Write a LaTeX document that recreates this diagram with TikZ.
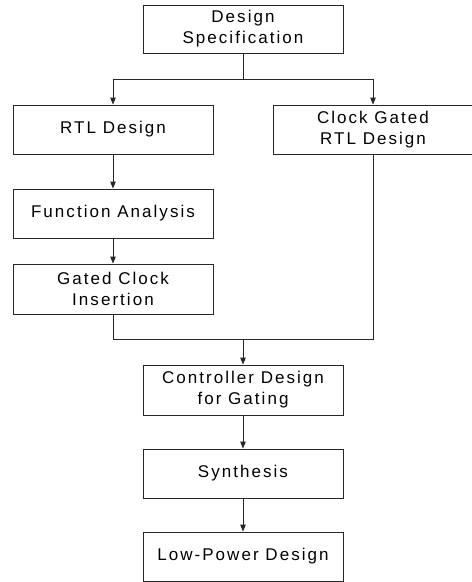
\documentclass[tikz,border=0pt]{standalone}
\usepackage{fontspec}
\setmainfont{Liberation Sans}[LetterSpace=12]
\usetikzlibrary{arrows.meta}

\tikzset{
  stage/.style={draw=black!85, line width=0.9pt, minimum width=200pt, minimum height=49pt,
    inner sep=0pt, align=center, font=\fontsize{17}{21}\selectfont, text=black},
  flow/.style={draw=black!85, line width=0.9pt},
  flowarrow/.style={flow, -{Triangle[length=7pt,width=5.5pt]}},
}

\begin{document}
\begin{tikzpicture}[x=1pt,y=-1pt]
  \clip (0,0) rectangle (472,582);

  % design stages
  \node[stage, minimum height=48pt] (spec) at (243,29)    {Design\\Specification};
  \node[stage] (rtl)  at (113,129.5) {RTL Design};
  \node[stage] (cg)   at (373,129.5) {Clock Gated\\RTL Design};
  \node[stage] (fa)   at (113,213.5) {Function Analysis};
  \node[stage, minimum height=50pt] (gci)  at (113,289)   {Gated Clock\\Insertion};
  \node[stage, minimum height=50pt] (ctrl) at (243,390)   {Controller Design\\for Gating};
  \node[stage] (syn)  at (243,473.5) {Synthesis};
  \node[stage] (lp)   at (243,556.5) {Low-Power Design};

  % branch and merge points
  \coordinate (split) at (243,79);
  \coordinate (merge) at (243,339);

  % specification splits into the two design paths
  \draw[flow] (spec.south) -- (split);
  \draw[flowarrow] (split) -| (rtl.north);
  \draw[flowarrow] (split) -| (cg.north);

  % manual gating path
  \draw[flowarrow] (rtl) -- (fa);
  \draw[flowarrow] (fa) -- (gci);

  % both paths join before the controller
  \draw[flow] (gci.south) |- (merge);
  \draw[flow] (cg.south) |- (merge);
  \draw[flowarrow] (merge) -- (ctrl.north);

  % back end
  \draw[flowarrow] (ctrl) -- (syn);
  \draw[flowarrow] (syn) -- (lp);
\end{tikzpicture}
\end{document}
